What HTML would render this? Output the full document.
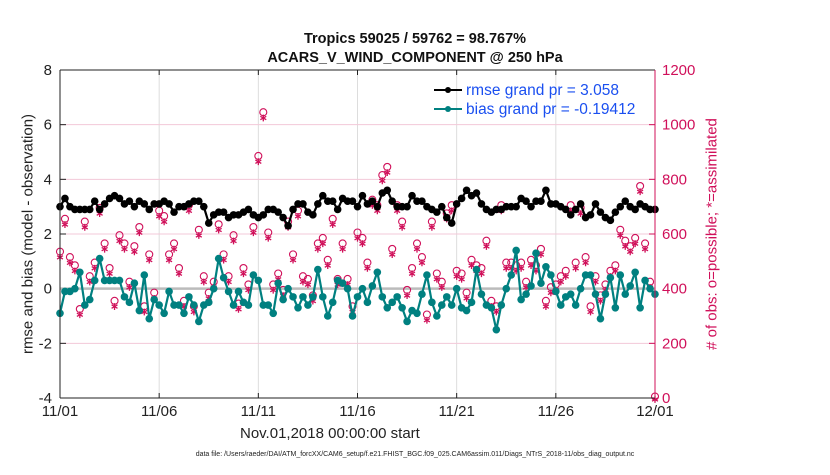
<!DOCTYPE html>
<html><head><meta charset="utf-8"><style>
body{margin:0;background:#fff;width:830px;height:470px;overflow:hidden;font-family:"Liberation Sans",sans-serif}
</style></head><body>
<svg id="c" width="830" height="470" xmlns="http://www.w3.org/2000/svg" font-family="Liberation Sans, sans-serif"></svg>
<script>
const xTicks=["11/01","11/06","11/11","11/16","11/21","11/26","12/01"];
const yTicksL=[-4,-2,0,2,4,6,8];
const yTicksR=[0,200,400,600,800,1000,1200];
const rmse=[3.0,3.3,3.0,2.9,2.9,2.9,2.9,3.2,2.9,3.1,3.3,3.4,3.3,3.1,3.2,3.0,3.2,3.1,2.9,3.1,3.1,3.2,3.1,2.8,3.0,3.0,3.1,3.2,3.2,3.0,2.4,2.7,2.8,2.8,2.6,2.7,2.7,2.8,2.9,2.7,2.6,2.7,2.9,2.9,2.8,2.6,2.3,2.9,3.1,3.1,2.8,2.7,3.1,3.4,3.2,3.2,2.9,3.3,3.2,3.2,3.0,3.4,3.1,3.2,3.0,3.5,3.6,3.2,3.0,3.0,3.0,3.4,3.2,3.2,3.0,2.9,2.8,3.0,2.6,2.4,3.1,3.3,3.6,3.4,3.5,3.1,2.9,2.8,2.9,2.9,3.0,3.0,3.0,3.3,3.2,3.0,3.2,3.2,3.6,3.1,3.1,3.0,2.9,2.7,2.9,3.1,2.6,2.7,3.1,2.8,2.6,2.5,2.8,3.0,3.2,3.0,2.9,3.1,3.0,2.9,2.9];
const bias=[-0.9,-0.1,-0.1,0.0,0.6,-0.6,-0.4,0.3,1.1,0.3,0.3,0.3,0.3,-0.3,-0.5,0.2,-0.8,0.5,-1.1,-0.4,-0.6,-0.9,-0.1,-0.6,-0.6,-0.9,-0.3,-0.6,-1.2,-0.6,-0.5,0.0,1.1,0.4,-0.1,-0.6,-0.1,-0.5,-0.6,0.5,0.3,-0.6,-0.6,-0.9,0.2,-0.4,0.0,-0.3,-0.7,-0.3,-0.6,-0.3,0.7,-0.3,-1.0,-0.5,0.3,0.2,0.0,-1.0,-0.3,0.0,-0.5,0.1,0.6,-0.3,-0.7,-0.5,-0.3,-0.7,-1.2,-0.8,-0.9,-0.2,0.5,-0.5,-1.0,-0.6,-0.3,-0.6,0.0,-0.7,-0.8,-0.5,0.7,-0.2,-0.6,-0.7,-1.5,-0.6,0.0,0.5,1.4,-0.4,-0.2,0.1,1.3,0.2,0.8,0.5,-0.1,-0.6,-0.3,-0.2,-0.6,0.0,0.5,0.5,-0.2,-1.1,-0.2,0.4,-0.7,0.5,-0.2,0.1,0.6,-0.7,0.3,0.0,-0.2];
const nPoss=[530,650,510,480,320,640,440,490,690,560,470,350,590,560,420,550,620,330,520,380,680,660,520,560,470,350,700,330,610,440,380,420,630,520,440,590,340,470,410,620,880,1040,600,410,450,390,640,520,680,440,430,370,560,580,500,650,430,560,430,330,600,580,490,720,700,810,840,540,700,640,390,470,560,510,300,640,450,420,670,700,460,450,380,500,480,470,570,350,330,700,490,490,480,490,420,500,480,540,350,400,410,440,460,700,490,690,510,330,440,370,410,460,480,610,570,550,580,770,560,420,0];
const nAssim=nPoss.map(v=>v>0?v-10:0);
const svg=document.getElementById('c');const NS='http://www.w3.org/2000/svg';
const X0=60,X1=655,Y0=70,Y1=398;
const xs=i=>X0+(X1-X0)*i/120;
const yL=v=>Y1-(v+4)/12*(Y1-Y0);
const yR=v=>Y1-v/1200*(Y1-Y0);
function mk(t,a,txt){const e=document.createElementNS(NS,t);for(const k in a)e.setAttribute(k,a[k]);if(txt!==undefined)e.textContent=txt;svg.appendChild(e);return e;}
xTicks.forEach((t,i)=>{const x=X0+(X1-X0)*i/6;
const g=mk('line',{x1:x,x2:x,y1:Y0,y2:Y1,stroke:'#ddd','stroke-width':1});


const l=mk('text',{x:x,y:416,'font-size':15,'text-anchor':'middle',fill:'#222'},t);


mk('line',{x1:x,x2:x,y1:Y1,y2:Y1-5,stroke:'#222'});mk('line',{x1:x,x2:x,y1:Y0,y2:Y0+5,stroke:'#222'});});
yTicksR.forEach(v=>{const y=yR(v);
if(v>0&&v<1200){const g=mk('line',{x1:X0,x2:X1,y1:y,y2:y,stroke:'#f3c8d8','stroke-width':1});

}
mk('line',{x1:X1,x2:X1-6,y1:y,y2:y,stroke:'#d0105a'});
const l=mk('text',{x:X1+7,y:y+5,'font-size':15,fill:'#d0105a'},v);

});
yTicksL.forEach(v=>{const y=yL(v);
mk('line',{x1:X0,x2:X0+6,y1:y,y2:y,stroke:'#222'});
const l=mk('text',{x:X0-8,y:y+5,'font-size':15,'text-anchor':'end',fill:'#222'},v);

});
const z=mk('line',{x1:X0,x2:X1,y1:yL(0),y2:yL(0),stroke:'#bbb','stroke-width':2.5});


nPoss.forEach((v,i)=>{const x=xs(i);
const c=mk('circle',{cx:x,cy:yR(v)-1.5,r:3.5,fill:'none',stroke:'#d0105a','stroke-width':1.1});


const ya=yR(nAssim[i])+1.5,r=3.4;
const s=mk('path',{d:`M${x},${ya-r}V${ya+r}M${x-r*0.87},${ya-r/2}L${x+r*0.87},${ya+r/2}M${x-r*0.87},${ya+r/2}L${x+r*0.87},${ya-r/2}`,stroke:'#d0105a','stroke-width':1.3,fill:'none'});

});
function series(arr,col,name){
const p=mk('polyline',{points:arr.map((v,i)=>xs(i)+','+yL(v)).join(' '),fill:'none',stroke:col,'stroke-width':2.2});


arr.forEach((v,i)=>{const c=mk('circle',{cx:xs(i),cy:yL(v),r:3.8,fill:col});

});}
series(rmse,'#000','rmse');series(bias,'#008080','bias');
mk('line',{x1:X0,x2:X0,y1:Y0,y2:Y1,stroke:'#222'});mk('line',{x1:X0,x2:X1,y1:Y1,y2:Y1,stroke:'#222'});
mk('line',{x1:X0,x2:X1,y1:Y0,y2:Y0,stroke:'#222'});mk('line',{x1:X1,x2:X1,y1:Y0,y2:Y1,stroke:'#d0105a'});
[['rmse grand pr = 3.058','#000',90,'legend-rmse'],['bias grand pr = -0.19412','#008080',109,'legend-bias']].forEach(d=>{
mk('line',{x1:434,x2:462,y1:d[2],y2:d[2],stroke:d[1],'stroke-width':2});mk('circle',{cx:448,cy:d[2],r:3,fill:d[1]});
const t=mk('text',{x:466,y:d[2]+5,'font-size':15.5,fill:'#1a4ff0'},d[0]);

});
</script>
<div style="position:absolute;left:0;top:30px;width:830px;text-align:center;font-weight:bold;font-size:14.5px;line-height:19px;color:#111">Tropics 59025 / 59762 = 98.767%<br>ACARS_V_WIND_COMPONENT @ 250 hPa</div>
<div style="position:absolute;left:240px;top:425px;font-size:15px;color:#222">Nov.01,2018 00:00:00 start</div>
<div style="position:absolute;left:28px;top:234px;transform:translate(-50%,-50%) rotate(-90deg);white-space:nowrap;font-size:15px;color:#222">rmse and bias (model - observation)</div>
<div style="position:absolute;left:712px;top:234px;transform:translate(-50%,-50%) rotate(-90deg);white-space:nowrap;font-size:15px;color:#d0105a"># of obs: o=possible; *=assimilated</div>
<div style="position:absolute;left:0;top:451px;width:830px;text-align:center;font-size:7px;color:#222">data file: /Users/raeder/DAI/ATM_forcXX/CAM6_setup/f.e21.FHIST_BGC.f09_025.CAM6assim.011/Diags_NTrS_2018-11/obs_diag_output.nc</div>
</body></html>
